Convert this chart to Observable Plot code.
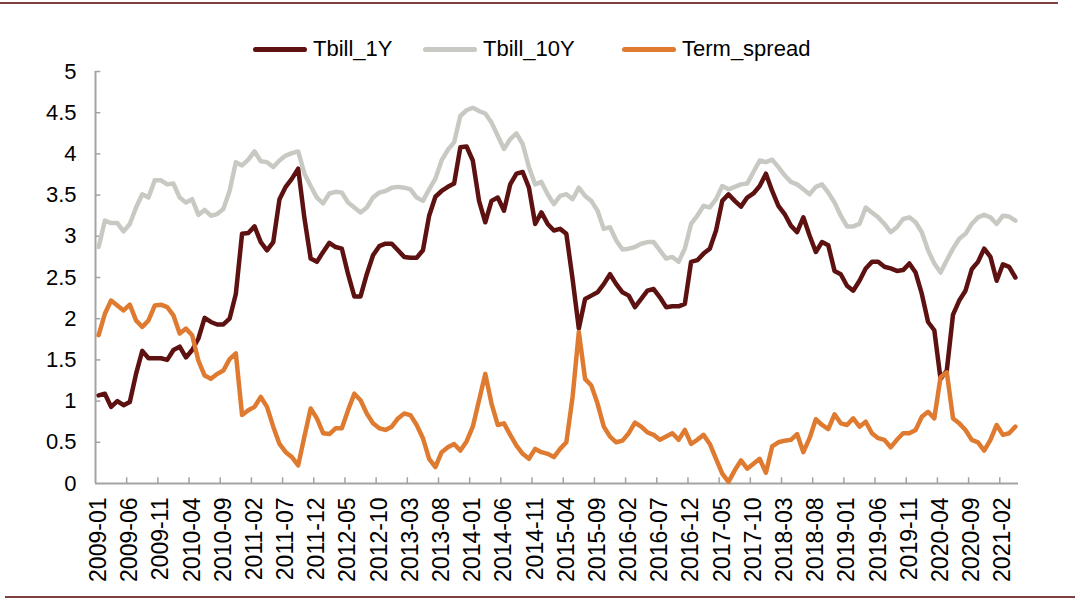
<!DOCTYPE html>
<html><head><meta charset="utf-8">
<script src="https://cdn.jsdelivr.net/npm/d3@7"></script>
<script src="https://cdn.jsdelivr.net/npm/@observablehq/plot@0.6"></script>
<style>
body{margin:0;background:#fff;}
#wrap{position:relative;width:1080px;height:601px;overflow:hidden;font-family:"Liberation Sans",Arial,sans-serif;background:#fff;}
.rule{position:absolute;height:2px;background:#7d3f3f;}
.item{position:absolute;top:36px;display:flex;align-items:center;font-size:22px;color:#000;white-space:nowrap;}
.sw{width:54px;height:5px;border-radius:3px;margin-right:6px;}
#chart{position:absolute;top:0;left:0;}
</style></head><body>
<div id="wrap">
  <div id="chart"></div>
  <div class="rule" style="top:2px;left:0;width:1058px;"></div>
  <div class="rule" style="top:596px;left:5px;width:1070px;"></div>
  <div id="legend"></div>
</div>
<script>
// Monthly categories 2009-01 .. 2021-04
const startMonth = "2009-01";
const monthCount = 148;
const months = d3.utcMonth.range(new Date(Date.UTC(2009,0,1)), new Date(Date.UTC(2021,4,1))).map(d3.utcFormat("%Y-%m"));

const seriesNames = ["Tbill_1Y", "Tbill_10Y", "Term_spread"];
const seriesColors = ["#5e1111", "#c9c9c4", "#df7b31"];

const tbill1Y = [
1.07,1.09,0.93,1.00,0.95,0.99,1.33,1.61,1.52,1.52,1.52,1.50,1.62,1.66,1.53,1.62,1.76,2.01,1.96,1.93,1.93,2.00,2.30,3.03,3.04,3.12,2.93,2.83,2.93,3.45,
3.60,3.70,3.82,3.22,2.73,2.69,2.81,2.92,2.87,2.85,2.54,2.27,2.27,2.54,2.77,2.88,2.91,2.91,2.83,2.75,2.74,2.74,2.83,3.25,3.48,3.55,3.60,3.64,4.08,4.09,
3.92,3.43,3.17,3.43,3.47,3.31,3.63,3.76,3.78,3.59,3.15,3.29,3.15,3.07,3.09,3.03,2.48,1.88,2.24,2.28,2.32,2.42,2.54,2.42,2.32,2.28,2.14,2.24,2.34,2.36,
2.26,2.14,2.15,2.15,2.18,2.69,2.71,2.79,2.85,3.07,3.43,3.51,3.43,3.36,3.47,3.52,3.61,3.76,3.55,3.37,3.27,3.13,3.05,3.23,3.01,2.81,2.93,2.89,2.58,2.54,
2.40,2.34,2.46,2.61,2.69,2.69,2.63,2.61,2.58,2.59,2.67,2.56,2.30,1.96,1.86,1.27,1.37,2.05,2.22,2.34,2.60,2.69,2.85,2.75,2.46,2.66,2.63,2.50];

const tbill10Y = [
2.87,3.19,3.16,3.16,3.06,3.15,3.35,3.51,3.47,3.68,3.68,3.63,3.64,3.47,3.41,3.45,3.26,3.32,3.25,3.27,3.33,3.55,3.90,3.86,3.93,4.03,3.91,3.90,3.84,3.92,
3.98,4.01,4.03,3.76,3.61,3.47,3.40,3.52,3.54,3.53,3.41,3.35,3.29,3.35,3.47,3.53,3.55,3.59,3.60,3.59,3.57,3.47,3.43,3.57,3.70,3.92,4.05,4.14,4.46,4.53,
4.56,4.52,4.49,4.38,4.22,4.06,4.18,4.25,4.12,3.84,3.63,3.66,3.51,3.39,3.49,3.51,3.45,3.59,3.49,3.43,3.31,3.09,3.11,2.95,2.84,2.85,2.87,2.91,2.93,2.93,
2.83,2.73,2.75,2.69,2.85,3.15,3.25,3.37,3.35,3.45,3.61,3.57,3.60,3.63,3.64,3.78,3.92,3.90,3.93,3.84,3.74,3.66,3.63,3.57,3.51,3.60,3.63,3.53,3.41,3.25,
3.12,3.12,3.15,3.35,3.29,3.23,3.15,3.05,3.11,3.21,3.23,3.17,3.05,2.83,2.67,2.56,2.71,2.85,2.97,3.03,3.15,3.23,3.26,3.23,3.15,3.25,3.24,3.19];

const termSpread = [
1.80,2.06,2.22,2.16,2.10,2.17,1.98,1.90,1.98,2.16,2.17,2.14,2.04,1.82,1.88,1.80,1.49,1.31,1.27,1.33,1.37,1.51,1.58,0.83,0.89,0.93,1.05,0.93,0.69,0.48,
0.38,0.32,0.22,0.57,0.91,0.79,0.61,0.60,0.67,0.67,0.89,1.09,1.01,0.85,0.73,0.67,0.65,0.69,0.79,0.85,0.83,0.71,0.55,0.30,0.20,0.38,0.44,0.48,0.40,0.51,
0.69,1.01,1.33,0.97,0.71,0.73,0.59,0.46,0.36,0.30,0.42,0.38,0.36,0.32,0.42,0.50,1.05,1.84,1.27,1.19,0.97,0.69,0.57,0.50,0.52,0.61,0.74,0.69,0.62,0.59,
0.53,0.57,0.61,0.53,0.65,0.48,0.53,0.59,0.48,0.30,0.12,0.02,0.16,0.28,0.18,0.24,0.30,0.13,0.45,0.50,0.52,0.53,0.60,0.38,0.55,0.78,0.71,0.66,0.84,0.73,
0.71,0.79,0.69,0.75,0.61,0.55,0.53,0.44,0.53,0.61,0.61,0.65,0.81,0.87,0.79,1.29,1.35,0.79,0.73,0.65,0.53,0.50,0.40,0.53,0.71,0.59,0.61,0.69];

const yTicks = [0,0.5,1,1.5,2,2.5,3,3.5,4,4.5,5];
const xTickLabels = ["2009-01","2009-06","2009-11","2010-04","2010-09","2011-02","2011-07","2011-12","2012-05","2012-10","2013-03","2013-08","2014-01","2014-06","2014-11","2015-04","2015-09","2016-02","2016-07","2016-12","2017-05","2017-10","2018-03","2018-08","2019-01","2019-06","2019-11","2020-04","2020-09","2021-02"];

const allSeries = [tbill1Y, tbill10Y, termSpread];
const rows = allSeries.map((vals, k) => vals.map((v, i) => ({x: i + 0.5, v, month: months[i], series: seriesNames[k]})));

const labelPos = xTickLabels.map(l => months.indexOf(l) + 0.5);
const boundaries = xTickLabels.slice(1).map(l => months.indexOf(l));
const labelMap = new Map(labelPos.map((p, j) => [p, xTickLabels[j]]));

const axisColor = "#a3a3a3";

const chart = Plot.plot({
  width: 1080, height: 601,
  marginLeft: 95, marginRight: 62, marginTop: 71, marginBottom: 118,
  x: {domain: [0, monthCount]},
  y: {domain: [0, 5]},
  style: {fontFamily: "'Liberation Sans', Arial, sans-serif", color: "#000", background: "transparent", overflow: "visible"},
  marks: [
    Plot.ruleY([0], {stroke: axisColor, strokeWidth: 2}),
    Plot.ruleX([0], {y1: 0, y2: 5, stroke: axisColor, strokeWidth: 2}),
    Plot.ruleX(boundaries, {x: d => d, y1: 0, y2: 0.07, stroke: axisColor, strokeWidth: 1.5}),
    Plot.ruleY(yTicks.slice(1), {y: d => d, x1: 0, x2: 0.85, stroke: axisColor, strokeWidth: 1.5}),
    Plot.axisY({ticks: yTicks, tickSize: 0, tickPadding: 19, tickFormat: d => String(d), fontSize: 22, label: null}),
    Plot.axisX({ticks: labelPos, tickSize: 0, tickPadding: 14, tickRotate: -90, tickFormat: d => labelMap.get(d), fontSize: 23, label: null}),
    Plot.line(rows[0], {x: "x", y: "v", stroke: seriesColors[0], strokeWidth: 4.5, strokeLinejoin: "round"}),
    Plot.line(rows[1], {x: "x", y: "v", stroke: seriesColors[1], strokeWidth: 4.5, strokeLinejoin: "round"}),
    Plot.line(rows[2], {x: "x", y: "v", stroke: seriesColors[2], strokeWidth: 4.5, strokeLinejoin: "round"})
  ]
});
document.getElementById("chart").appendChild(chart);

// Legend
const legendLeft = [253, 423, 622];
const legend = document.getElementById("legend");
seriesNames.forEach((name, k) => {
  const it = document.createElement("div");
  it.className = "item";
  it.style.left = legendLeft[k] + "px";
  it.innerHTML = `<span class="sw" style="background:${seriesColors[k]}"></span><span>${name}</span>`;
  legend.appendChild(it);
});
</script>
</body></html>
